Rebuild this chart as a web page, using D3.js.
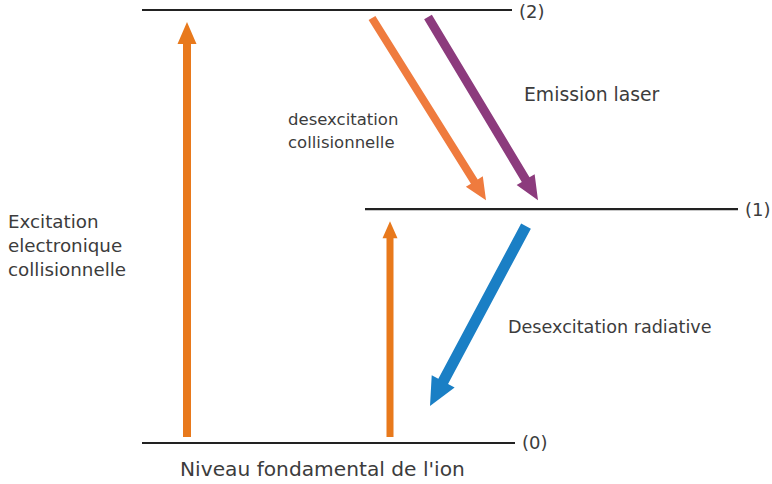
<!DOCTYPE html>
<html>
<head>
<meta charset="utf-8">
<script src="https://cdn.jsdelivr.net/npm/d3@7"></script>
<style>
body { margin: 0; background: #fff; }
svg text { font-family: "DejaVu Sans", sans-serif; fill: #3c3c3c; }
</style>
</head>
<body>
<div id="chart"></div>
<script>
var width = 772;
var height = 484;

// energy levels of the ion (relative energy)
var levelIds = [0, 1, 2];
var levelEnergy = [0, 1.08, 2];
var levelLabels = ["(0)", "(1)", "(2)"];

// transitions between levels
var transFrom = [0, 0, 2, 2, 1];
var transTo = [2, 1, 1, 1, 0];
var transNames = ["excitation", "pompage", "collision", "laser", "radiative"];

// annotation texts
var annotations = [
    ["Excitation", "electronique", "collisionnelle"],
    ["desexcitation", "collisionnelle"],
    ["Emission laser"],
    ["Desexcitation radiative"],
    ["Niveau fondamental de l'ion"]
];

var color = d3.scaleOrdinal()
    .domain(transNames)
    .range(["#e8791c", "#e8791c", "#ef7b3e", "#8c3b7d", "#1a7fc5"]);

var yScale = d3.scaleLinear()
    .domain([0, 2])
    .range([443, 10]);

function levelY(id) { return yScale(levelEnergy[id]); }

// layout of the diagram (horizontal extent of each level, x of each arrow)
var levelX = { 0: [142, 515], 1: [365, 738], 2: [142, 512] };
var arrowX = {
    excitation: [187, 187],
    pompage: [390, 390],
    collision: [372, 486],
    laser: [428, 538],
    radiative: [526, 430]
};
var arrowGap = {
    excitation: [6, 12],
    pompage: [6, 12],
    collision: [8, 9],
    laser: [7, 9],
    radiative: [17, 37]
};
var arrowSize = {
    excitation: { w: 8, hw: 19, hl: 22 },
    pompage: { w: 7, hw: 15, hl: 17 },
    collision: { w: 8, hw: 20, hl: 22 },
    laser: { w: 9, hw: 21, hl: 24 },
    radiative: { w: 11, hw: 26, hl: 28 }
};

var svg = d3.select("#chart")
    .append("svg")
    .attr("width", width)
    .attr("height", height);

// level lines
svg.selectAll("line.level")
    .data(levelIds)
    .enter()
    .append("line")
    .attr("class", "level")
    .attr("x1", function (d) { return levelX[d][0]; })
    .attr("x2", function (d) { return levelX[d][1]; })
    .attr("y1", levelY)
    .attr("y2", levelY)
    .attr("stroke", "#222")
    .attr("stroke-width", 2.2);

svg.selectAll("text.level")
    .data(levelIds)
    .enter()
    .append("text")
    .attr("class", "level")
    .attr("x", function (d) { return levelX[d][1] + 7; })
    .attr("y", function (d) { return Math.max(levelY(d), 12); })
    .attr("dy", "0.36em")
    .style("font-size", "18px")
    .text(function (d) { return levelLabels[d]; });

// arrows as polygons
function arrowPath(x1, y1, x2, y2, s) {
    var dx = x2 - x1, dy = y2 - y1;
    var len = Math.sqrt(dx * dx + dy * dy);
    var ux = dx / len, uy = dy / len;
    var px = -uy, py = ux;
    var bx = x2 - ux * s.hl, by = y2 - uy * s.hl;
    var pts = [
        [x1 + px * s.w / 2, y1 + py * s.w / 2],
        [bx + px * s.w / 2, by + py * s.w / 2],
        [bx + px * s.hw / 2, by + py * s.hw / 2],
        [x2, y2],
        [bx - px * s.hw / 2, by - py * s.hw / 2],
        [bx - px * s.w / 2, by - py * s.w / 2],
        [x1 - px * s.w / 2, y1 - py * s.w / 2]
    ];
    return d3.line()(pts) + "Z";
}

svg.selectAll("path.arrow")
    .data(transNames)
    .enter()
    .append("path")
    .attr("class", "arrow")
    .attr("fill", color)
    .attr("d", function (d, i) {
        var y1 = levelY(transFrom[i]);
        var y2 = levelY(transTo[i]);
        var dir = y2 > y1 ? 1 : -1;
        return arrowPath(arrowX[d][0], y1 + dir * arrowGap[d][0],
            arrowX[d][1], y2 - dir * arrowGap[d][1], arrowSize[d]);
    });

// annotation texts
var textPos = [
    { x: 8, y: 228, lh: 24, size: 18.3 },
    { x: 288, y: 125, lh: 23, size: 16.5 },
    { x: 524, y: 101, lh: 24, size: 18.8 },
    { x: 508, y: 333, lh: 24, size: 17.6 },
    { x: 180, y: 476, lh: 24, size: 20.2 }
];

annotations.forEach(function (lines, k) {
    var p = textPos[k];
    var t = svg.append("text")
        .attr("x", p.x)
        .attr("y", p.y)
        .style("font-size", p.size + "px");
    lines.forEach(function (l, j) {
        t.append("tspan")
            .attr("x", p.x)
            .attr("dy", j === 0 ? 0 : p.lh)
            .text(l);
    });
});
</script>
</body>
</html>
